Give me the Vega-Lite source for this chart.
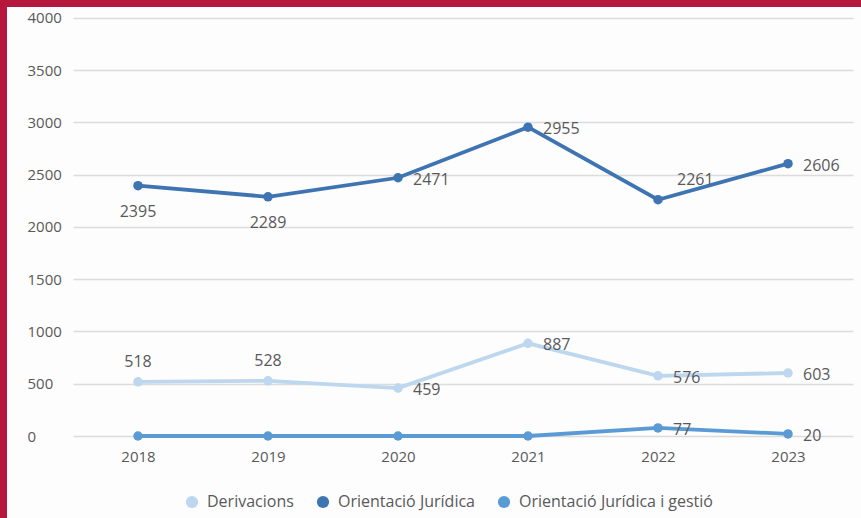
{
  "$schema": "https://vega.github.io/schema/vega-lite/v6.json",
  "padding": 0,
  "background": "#fdfdfd",
  "spacing": 0,
  "bounds": "flush",
  "config": {
    "font": "Open Sans",
    "concat": {"spacing": 0}
  },
  "datasets": {
    "main": [
      {"year": "2018", "series": "Derivacions", "value": 518},
      {"year": "2019", "series": "Derivacions", "value": 528},
      {"year": "2020", "series": "Derivacions", "value": 459},
      {"year": "2021", "series": "Derivacions", "value": 887},
      {"year": "2022", "series": "Derivacions", "value": 576},
      {"year": "2023", "series": "Derivacions", "value": 603},
      {"year": "2018", "series": "Orientació Jurídica", "value": 2395},
      {"year": "2019", "series": "Orientació Jurídica", "value": 2289},
      {"year": "2020", "series": "Orientació Jurídica", "value": 2471},
      {"year": "2021", "series": "Orientació Jurídica", "value": 2955},
      {"year": "2022", "series": "Orientació Jurídica", "value": 2261},
      {"year": "2023", "series": "Orientació Jurídica", "value": 2606},
      {"year": "2018", "series": "Orientació Jurídica i gestió", "value": 0},
      {"year": "2019", "series": "Orientació Jurídica i gestió", "value": 0},
      {"year": "2020", "series": "Orientació Jurídica i gestió", "value": 0},
      {"year": "2021", "series": "Orientació Jurídica i gestió", "value": 0},
      {"year": "2022", "series": "Orientació Jurídica i gestió", "value": 77},
      {"year": "2023", "series": "Orientació Jurídica i gestió", "value": 20}
    ]
  },
  "vconcat": [
    {
      "width": 861,
      "height": 7,
      "view": {"fill": "#b5173d", "stroke": null},
      "data": {"values": [{}]},
      "mark": {"type": "rect", "opacity": 0},
      "encoding": {}
    },
    {
      "spacing": 66,
      "bounds": "flush",
      "hconcat": [
        {
          "width": 7,
          "height": 511,
          "view": {"fill": "#b5173d", "stroke": null},
          "data": {"values": [{}]},
          "mark": {"type": "rect", "opacity": 0},
          "encoding": {}
        },
        {
          "width": 780,
          "height": 429,
          "view": {"stroke": null},
          "data": {"name": "main"},
          "encoding": {
            "x": {
              "field": "year",
              "type": "ordinal",
              "scale": {"type": "point", "padding": 0.5},
              "axis": {
                "title": null,
                "labelAngle": 0,
                "ticks": false,
                "domain": false,
                "grid": false,
                "labelFontSize": 15,
                "labelColor": "#595959",
                "labelPadding": 13
              }
            },
            "y": {
              "field": "value",
              "type": "quantitative",
              "scale": {"domain": [0, 4105], "nice": false},
              "axis": {
                "title": null,
                "values": [0, 500, 1000, 1500, 2000, 2500, 3000, 3500, 4000],
                "format": "d",
                "ticks": false,
                "domain": false,
                "gridColor": "#dcdcdc",
                "gridWidth": 1.5,
                "labelAlign": "left",
                "labelPadding": 46,
                "labelFontSize": 15,
                "labelColor": "#595959"
              }
            },
            "color": {
              "field": "series",
              "type": "nominal",
              "scale": {
                "domain": ["Derivacions", "Orientació Jurídica", "Orientació Jurídica i gestió"],
                "range": ["#bdd7ee", "#3f74b3", "#5b9bd5"]
              },
              "legend": {
                "title": null,
                "orient": "none",
                "direction": "horizontal",
                "legendX": 184,
                "legendY": 494,
                "symbolType": "circle",
                "symbolSize": 150,
                "symbolStrokeWidth": 0,
                "labelFontSize": 16,
                "labelLimit": 0,
                "labelColor": "#595959",
                "columnPadding": 21,
                "labelOffset": 7
              }
            }
          },
          "layer": [
            {
              "mark": {"type": "line", "strokeWidth": 3.8, "point": {"size": 90, "filled": true}}
            },
            {
              "transform": [
                {"filter": "(datum.series == 'Orientació Jurídica' && indexof(['2020','2021','2023'], datum.year) >= 0) || (datum.series == 'Derivacions' && indexof(['2020','2021','2022','2023'], datum.year) >= 0) || (datum.series == 'Orientació Jurídica i gestió' && datum.value > 0)"}
              ],
              "mark": {"type": "text", "align": "left", "baseline": "middle", "dx": 15, "dy": 2, "fontSize": 16},
              "encoding": {"text": {"field": "value", "type": "quantitative"}, "color": {"value": "#595959"}}
            },
            {
              "transform": [
                {"filter": "datum.series == 'Orientació Jurídica' && indexof(['2018','2019'], datum.year) >= 0"}
              ],
              "mark": {"type": "text", "align": "center", "baseline": "middle", "dy": 26, "fontSize": 16},
              "encoding": {"text": {"field": "value", "type": "quantitative"}, "color": {"value": "#595959"}}
            },
            {
              "transform": [
                {"filter": "datum.series == 'Derivacions' && indexof(['2018','2019'], datum.year) >= 0"}
              ],
              "mark": {"type": "text", "align": "center", "baseline": "middle", "dy": -20, "fontSize": 16},
              "encoding": {"text": {"field": "value", "type": "quantitative"}, "color": {"value": "#595959"}}
            },
            {
              "transform": [
                {"filter": "datum.series == 'Orientació Jurídica' && datum.year == '2022'"}
              ],
              "mark": {"type": "text", "align": "left", "baseline": "middle", "dx": 19, "dy": -20, "fontSize": 16},
              "encoding": {"text": {"field": "value", "type": "quantitative"}, "color": {"value": "#595959"}}
            }
          ]
        }
      ]
    }
  ]
}
